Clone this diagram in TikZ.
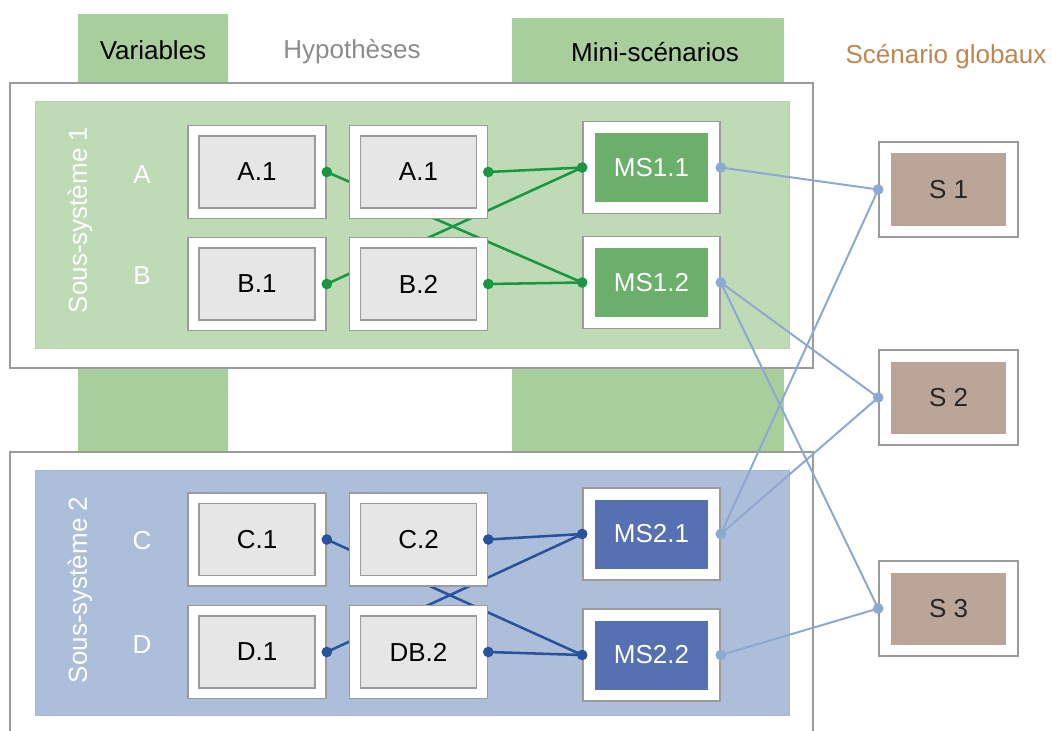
\documentclass[tikz,border=0pt]{standalone}
\usepackage{fontspec}
\setmainfont{Liberation Sans}
\pgfdeclarelayer{back}
\pgfdeclarelayer{mid}
\pgfdeclarelayer{front}
\pgfsetlayers{back,mid,main,front}
\definecolor{colgreen}{RGB}{168,206,156}
\definecolor{panelgreen}{RGB}{190,219,182}
\definecolor{panelblue}{RGB}{172,190,217}
\definecolor{msgreen}{RGB}{106,175,106}
\definecolor{msblue}{RGB}{86,112,178}
\definecolor{boxgray}{RGB}{230,230,230}
\definecolor{edgegray}{RGB}{155,155,155}
\definecolor{sbrown}{RGB}{186,165,152}
\definecolor{lgreen}{RGB}{25,150,65}
\definecolor{dblue}{RGB}{40,82,155}
\definecolor{lblue}{RGB}{143,168,210}
\definecolor{hypgray}{RGB}{140,140,140}
\definecolor{scbrown}{RGB}{190,135,80}
\begin{document}
\begin{tikzpicture}[x=0.75pt,y=-0.75pt,
  font=\fontsize{19.5}{23}\selectfont,
  frame/.style={draw=edgegray, line width=1.2pt, fill=white, inner sep=0pt},
  hbox/.style={frame, minimum width=103.5pt, minimum height=69.75pt},
  msbox/.style={frame, minimum width=102.75pt, minimum height=69pt},
  sbox/.style={frame, minimum width=104.25pt, minimum height=71.25pt},
  hin/.style={draw=edgegray, line width=0.8pt, fill=boxgray, inner sep=0pt, minimum width=87pt, minimum height=54pt, text=black},
  msgin/.style={fill=msgreen, inner sep=0pt, minimum width=84.75pt, minimum height=51.75pt, text=white},
  msbin/.style={fill=msblue, inner sep=0pt, minimum width=84.75pt, minimum height=51.75pt, text=white},
  sin/.style={fill=sbrown, inner sep=0pt, minimum width=86.25pt, minimum height=54pt, text=black!85},
  gline/.style={draw=lgreen, line width=1.9pt},
  bline/.style={draw=dblue, line width=1.9pt},
  lline/.style={draw=lblue, line width=1.5pt},
  gdot/.style={circle, fill=lgreen, inner sep=0pt, minimum size=8pt},
  bdot/.style={circle, fill=dblue, inner sep=0pt, minimum size=8pt},
  ldot/.style={circle, fill=lblue, inner sep=0pt, minimum size=8pt},
  lab/.style={text=white}
]
\useasboundingbox (0,0) rectangle (1052,731);

% background columns, frames, panels
\begin{pgfonlayer}{back}
\fill[white] (0,0) rectangle (1052,731);
\fill[colgreen] (78,14) rectangle (228,452);
\fill[colgreen] (512,18) rectangle (784,452);
\filldraw[draw=edgegray, line width=1.2pt, fill=white] (10,83) rectangle (813,368);
\filldraw[draw=panelgreen!90!gray, line width=0.6pt, fill=panelgreen] (35,101) rectangle (789,348);
\fill[white] (10,452) rectangle (813,731);
\draw[edgegray, line width=1.2pt] (10,740) -- (10,452) -- (813,452) -- (813,740);
\filldraw[draw=panelblue!90!gray, line width=0.6pt, fill=panelblue] (35,470) rectangle (789,715);
\end{pgfonlayer}

% headers
\node (hvar) at (153,50) {Variables};
\node[text=hypgray] (hhyp) at (352,52) {Hypothèses};
\node (hms) at (655,52) {Mini-scénarios};
\node[text=scbrown] (hsg) at (946,57) {Scénario globaux};

% subsystem labels
\node[lab, rotate=90] (ss1) at (80,220) {Sous-système 1};
\node[lab, rotate=90] (ss2) at (80,590) {Sous-système 2};
\node[lab] (la) at (142,175) {A};
\node[lab] (lb) at (142,276) {B};
\node[lab] (lc) at (142,541) {C};
\node[lab] (ld) at (142,645) {D};

% sub-system 1 boxes
\node[hbox] (va1) at (257,172) {};
\node[hin] at (va1) {A.1};
\node[hbox] (vb1) at (257,284) {};
\node[hin] at (vb1) {B.1};
\node[hbox] (ha1) at (418.5,172) {};
\node[hin] at (ha1) {A.1};
\node[hbox] (hb2) at (418.5,284) {};
\node[hin] at (hb2) {B.2};
\node[msbox] (ms11) at (651.5,167.5) {};
\node[msgin] at (ms11) {MS1.1};
\node[msbox] (ms12) at (651.5,282.5) {};
\node[msgin] at (ms12) {MS1.2};

% sub-system 2 boxes
\node[hbox] (vc1) at (257,539.5) {};
\node[hin] at (vc1) {C.1};
\node[hbox] (vd1) at (257,652) {};
\node[hin] at (vd1) {D.1};
\node[hbox] (hc2) at (418.5,539.5) {};
\node[hin] at (hc2) {C.2};
\node[hbox] (hdb2) at (418.5,652) {};
\node[hin] at (hdb2) {DB.2};
\node[msbox] (ms21) at (651.5,534) {};
\node[msbin] at (ms21) {MS2.1};
\node[msbox] (ms22) at (651.5,655) {};
\node[msbin] at (ms22) {MS2.2};

% global scenarios
\node[sbox] (s1) at (948.5,189.5) {};
\node[sin] at (s1) {S 1};
\node[sbox] (s2) at (948.5,397.5) {};
\node[sin] at (s2) {S 2};
\node[sbox] (s3) at (948.5,608.5) {};
\node[sin] at (s3) {S 3};

% green / blue links (behind the boxes)
\begin{pgfonlayer}{mid}
\draw[gline] (va1.east) -- (ms12.west);
\draw[gline] (vb1.east) -- (ms11.west);
\draw[gline] (ha1.east) -- (ms11.west);
\draw[gline] (hb2.east) -- (ms12.west);
\draw[bline] (vc1.east) -- (ms22.west);
\draw[bline] (vd1.east) -- (ms21.west);
\draw[bline] (hc2.east) -- (ms21.west);
\draw[bline] (hdb2.east) -- (ms22.west);
\end{pgfonlayer}

\begin{pgfonlayer}{front}
\foreach \n in {va1,vb1,ha1,hb2} \node[gdot] at (\n.east) {};
\foreach \n in {ms11,ms12} \node[gdot] at (\n.west) {};
\foreach \n in {vc1,vd1,hc2,hdb2} \node[bdot] at (\n.east) {};
\foreach \n in {ms21,ms22} \node[bdot] at (\n.west) {};
\draw[lline] (ms11.east) -- (s1.west);
\draw[lline] (ms12.east) -- (s2.west);
\draw[lline] (ms12.east) -- (s3.west);
\draw[lline] (ms21.east) -- (s1.west);
\draw[lline] (ms21.east) -- (s2.west);
\draw[lline] (ms22.east) -- (s3.west);
\foreach \n in {ms11,ms12,ms21,ms22} \node[ldot] at (\n.east) {};
\foreach \n in {s1,s2,s3} \node[ldot] at (\n.west) {};
\end{pgfonlayer}
\end{tikzpicture}
\end{document}
